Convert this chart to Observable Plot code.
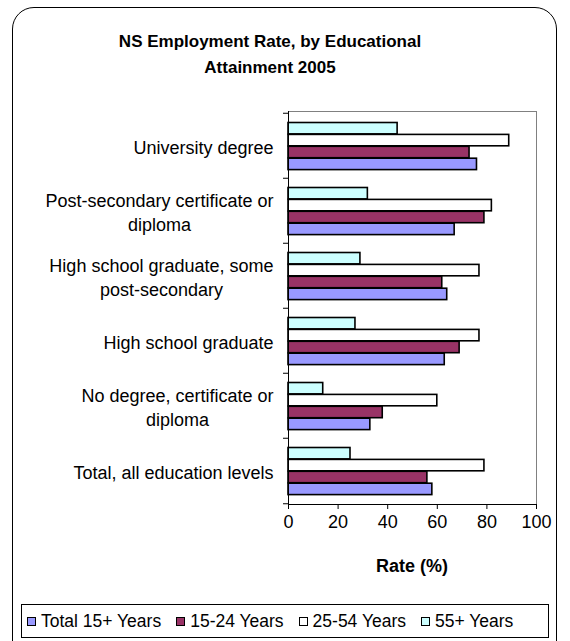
<!DOCTYPE html>
<html>
<head>
<meta charset="utf-8">
<script src="https://cdn.jsdelivr.net/npm/d3@7"></script>
<script src="https://cdn.jsdelivr.net/npm/@observablehq/plot@0.6"></script>
<style>
  html, body { margin: 0; padding: 0; background: #fff; }
  body { font-family: "Liberation Sans", Arial, sans-serif; color: #000; }
  #chart { position: relative; width: 570px; height: 641px; overflow: hidden; }
  #border { position: absolute; left: 12px; top: 7px; width: 545px; height: 660px;
            border: 1px solid #000; border-radius: 22px; box-sizing: border-box; }
  #title { position: absolute; left: 0; top: 29px; width: 540px; text-align: center;
           font-weight: bold; font-size: 17px; line-height: 26px; }
  #plot { position: absolute; left: 0; top: 0; }
  #xlabel { position: absolute; left: 288px; width: 248px; top: 555px; text-align: center;
            font-weight: bold; font-size: 18px; line-height: 22px; }
  #legend { position: absolute; left: 21px; top: 604px; width: 528px; height: 34px;
            border: 1px solid #000; box-sizing: border-box; display: flex; align-items: center;
            justify-content: flex-start; padding-left: 5px; font-size: 17.5px; white-space: nowrap; }
  .item { display: flex; align-items: center; margin-right: 15px; }
  .swatch { width: 9px; height: 9px; border: 1px solid #000; box-sizing: border-box; margin-right: 5px; }
</style>
</head>
<body>
<div id="chart">
  <div id="border"></div>
  <div id="title">NS Employment Rate, by Educational<br>Attainment 2005</div>
  <div id="plot"></div>
  <div id="xlabel">Rate (%)</div>
  <div id="legend"></div>
</div>
<script>
// Education levels, top to bottom
const categories = [
  "University degree",
  "Post-secondary certificate or diploma",
  "High school graduate, some post-secondary",
  "High school graduate",
  "No degree, certificate or diploma",
  "Total, all education levels"
];
// Axis labels as wrapped on the chart
const categoryLabels = [
  "University degree",
  "Post-secondary certificate or\ndiploma",
  "High school graduate, some\npost-secondary",
  "High school graduate",
  "No degree, certificate or\ndiploma",
  "Total, all education levels"
];

// Employment rate (%) per education level
const total15plus = [76, 67, 64, 63, 33, 58];
const age15to24   = [73, 79, 62, 69, 38, 56];
const age25to54   = [89, 82, 77, 77, 60, 79];
const age55plus   = [44, 32, 29, 27, 14, 25];

const seriesNames  = ["Total 15+ Years", "15-24 Years", "25-54 Years", "55+ Years"];
const seriesValues = [total15plus, age15to24, age25to54, age55plus];
const seriesColors = ["#9999FF", "#993366", "#FFFFFF", "#CCFFFF"];

const xTicks = [0, 20, 40, 60, 80, 100];

// Long-format rows
const rows = seriesNames.flatMap((s, si) =>
  categories.map((c, ci) => ({category: c, series: s, value: seriesValues[si][ci]})));

const W = 570, H = 600;
const margin = {top: 111, right: 34, bottom: 96, left: 288};
const step = (H - margin.top - margin.bottom) / categories.length;
const barH = 11.9;
const groupTop = 9.5;
// Drawn top to bottom within each band: 55+, 25-54, 15-24, Total
const stackOrder = [3, 2, 1, 0];

const ctx = document.createElement("canvas").getContext("2d");
ctx.font = "18px 'Liberation Sans'";
const labelWidth = (label) => d3.max(label.split("\n"), l => ctx.measureText(l).width);

const barMarks = stackOrder.map((si, pos) =>
  Plot.barX(rows.filter(r => r.series === seriesNames[si]), {
    x: "value",
    y: "category",
    fill: seriesColors[si],
    stroke: "#000",
    strokeWidth: 1.6,
    insetTop: groupTop + pos * barH,
    insetBottom: step - (groupTop + (pos + 1) * barH)
  }));

const labelMarks = categories.map((c, i) =>
  Plot.text([c], {
    y: d => d,
    text: () => categoryLabels[i],
    frameAnchor: "left",
    textAnchor: "middle",
    lineAnchor: "middle",
    lineHeight: 1.38,
    fontSize: 18,
    dx: -15 - labelWidth(categoryLabels[i]) / 2
  }));

const chart = Plot.plot({
  width: W,
  height: H,
  marginTop: margin.top,
  marginRight: margin.right,
  marginBottom: margin.bottom,
  marginLeft: margin.left,
  style: {fontFamily: "'Liberation Sans', Arial, sans-serif", fontSize: "18px", background: "transparent", color: "#000"},
  x: {domain: [0, 100]},
  y: {domain: categories, padding: 0, axis: null},
  marks: [
    Plot.frame({stroke: "#808080"}),
    ...barMarks,
    // category boundary ticks on the left axis
    Plot.axisY({tickSize: 5, tickFormat: () => "", label: null, dy: -step / 2, stroke: "#000"}),
    Plot.axisY([categories[categories.length - 1]], {tickSize: 5, tickFormat: () => "", label: null, dy: step / 2, stroke: "#000"}),
    Plot.ruleX([0], {stroke: "#000"}),
    Plot.frame({anchor: "bottom", stroke: "#000"}),
    Plot.axisX({ticks: xTicks, tickSize: 5, tickPadding: 6, label: null, stroke: "#000"}),
    ...labelMarks
  ]
});
document.getElementById("plot").append(chart);

const legend = document.getElementById("legend");
seriesNames.forEach((s, i) => {
  const item = document.createElement("div");
  item.className = "item";
  const sw = document.createElement("div");
  sw.className = "swatch";
  sw.style.background = seriesColors[i];
  const t = document.createElement("span");
  t.textContent = s;
  item.append(sw, t);
  legend.append(item);
});
</script>
</body>
</html>
